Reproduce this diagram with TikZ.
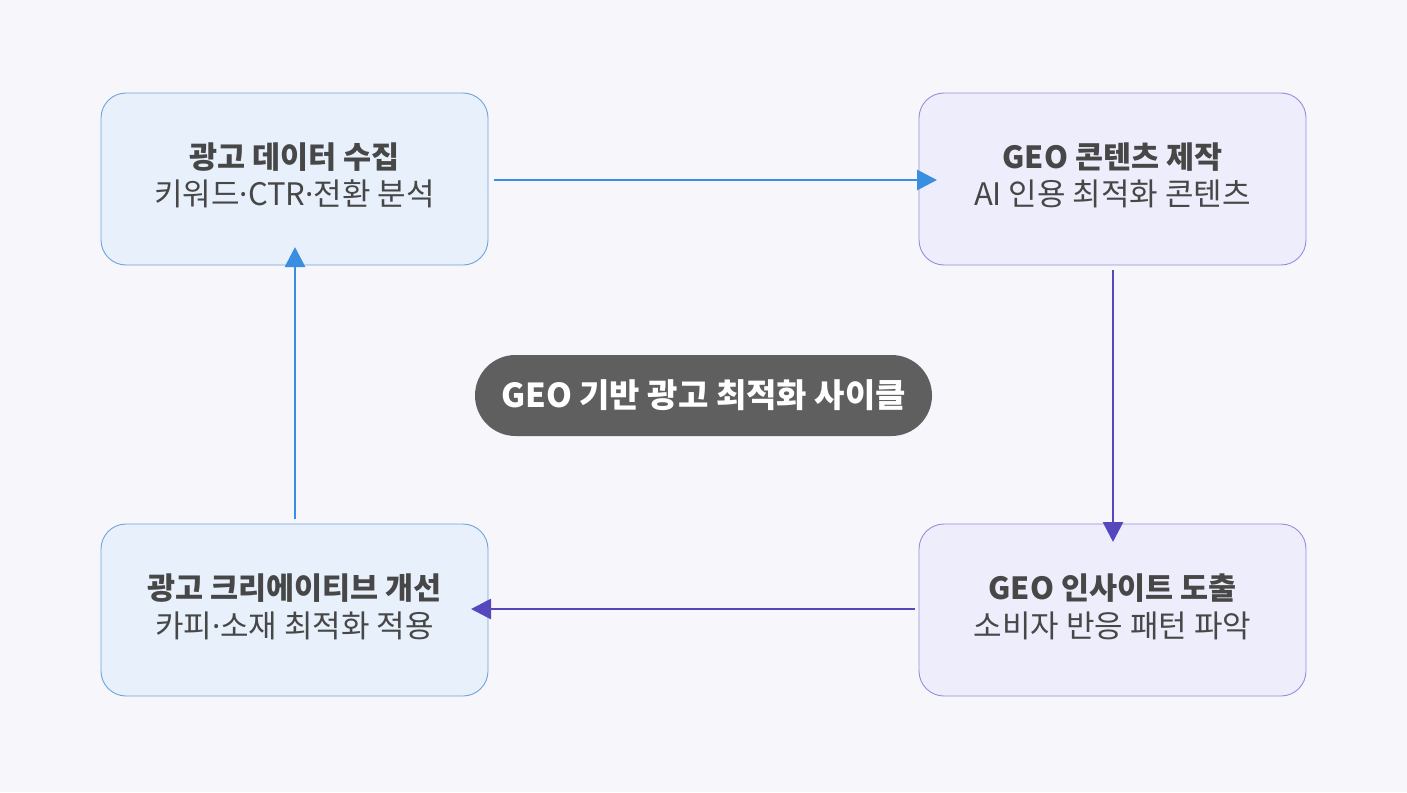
\documentclass[tikz,border=0pt]{standalone}
\usepackage{fontspec}
\setmainfont{Noto Sans CJK KR}
\newfontfamily\latinf{Noto Sans}
\newcommand{\mdot}{{\latinf ·}}
\usetikzlibrary{arrows.meta}
\definecolor{bg}{HTML}{F7F7FB}
\definecolor{bluefill}{HTML}{E7F0FB}
\definecolor{bluedraw}{HTML}{6FA3DC}
\definecolor{purpfill}{HTML}{EEEDFC}
\definecolor{purpdraw}{HTML}{958DDB}
\definecolor{bluearr}{HTML}{3A8EE0}
\definecolor{purparr}{HTML}{5547BC}
\definecolor{txt}{HTML}{474747}
\definecolor{pill}{HTML}{5F5F5F}
\tikzset{
  box/.style={rounded corners=25pt, minimum width=387pt, minimum height=172pt, line width=0.9pt, align=center, text=txt, inner sep=0pt},
  bbox/.style={box, fill=bluefill, draw=bluedraw},
  pbox/.style={box, fill=purpfill, draw=purpdraw},
  barr/.style={draw=bluearr, line width=2.8pt, -{Triangle[length=20pt,width=20pt]}},
  parr/.style={draw=purparr, line width=2.8pt, -{Triangle[length=20pt,width=20pt]}},
  ttl/.style={text=txt, font=\fontsize{30.5}{36}\selectfont\bfseries},
  sub/.style={text=txt, font=\fontsize{31}{36}\selectfont},
}
\begin{document}
\begin{tikzpicture}[x=1pt,y=-1pt]
\fill[bg] (0,0) rectangle (1407,792);
\useasboundingbox (0,0) rectangle (1407,792);
\node[bbox] (a) at (294.5,179) {};
\node[pbox] (b) at (1112.5,179) {};
\node[pbox] (c) at (1112.5,610) {};
\node[bbox] (d) at (294.5,610) {};
\node[ttl] (at) at (294.5,157) {광고 데이터 수집};
\node[sub] (as) at (294.5,194) {키워드\mdot CTR\mdot 전환 분석};
\node[ttl] (bt) at (1112.5,157) {GEO 콘텐츠 제작};
\node[sub] (bs) at (1112.5,194) {AI 인용 최적화 콘텐츠};
\node[ttl] (ct) at (1112.5,588) {GEO 인사이트 도출};
\node[sub] (cs) at (1112.5,626) {소비자 반응 패턴 파악};
\node[ttl] (dt) at (294.5,588) {광고 크리에이티브 개선};
\node[sub] (ds) at (294.5,626) {카피\mdot 소재 최적화 적용};
\node[fill=pill, rounded corners=40.5pt, minimum width=457pt, minimum height=81pt, text=white, font=\fontsize{33}{38}\selectfont\bfseries] (p) at (703.5,395.5) {GEO 기반 광고 최적화 사이클};
\coordinate (a1) at (494,180);
\coordinate (b1) at (937,180);
\coordinate (b2) at (1113,270);
\coordinate (c1) at (1113,542);
\coordinate (c2) at (915,609);
\coordinate (d1) at (471,609);
\coordinate (d2) at (295,519);
\coordinate (a2) at (295,247);
\draw[barr] (a1) -- (b1);
\draw[parr] (b2) -- (c1);
\draw[parr] (c2) -- (d1);
\draw[barr] (d2) -- (a2);
\end{tikzpicture}
\end{document}
